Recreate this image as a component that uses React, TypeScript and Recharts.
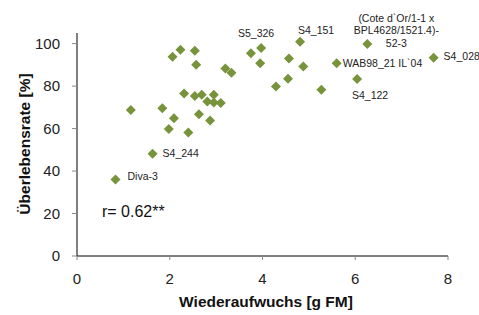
import React from 'react';
import { ScatterChart, Scatter, XAxis, YAxis, LabelList } from 'recharts';

// Wiederaufwuchs [g FM] vs. Überlebensrate [%]
const regrowth = [
  0.83, 1.63, 1.16, 1.84, 1.98, 2.09, 2.40, 2.06, 2.23, 2.54, 2.57, 2.31,
  2.54, 2.69, 2.81, 2.95, 2.95, 3.10, 2.63, 2.87, 3.20, 3.33, 3.75, 3.97,
  3.95, 4.29, 4.57, 4.55, 4.88, 4.81, 5.27, 5.60, 6.04, 6.26, 7.69,
];
const survival = [
  36.0, 48.1, 68.7, 69.6, 59.8, 64.9, 58.2, 93.8, 97.1, 96.6, 90.0, 76.5,
  75.3, 75.9, 72.8, 75.9, 72.3, 72.0, 66.8, 63.8, 88.3, 86.3, 95.5, 97.9,
  90.8, 79.8, 93.0, 83.4, 89.2, 100.9, 78.3, 90.8, 83.3, 99.8, 93.3,
];
const genotypes = [
  'Diva-3', 'S4_244', '', '', '', '', '', '', '', '', '', '',
  '', '', '', '', '', '', '', '', '', '', '', 'S5_326',
  '', '', '', '', '', 'S4_151', '', 'WAB98_21 IL`04', 'S4_122',
  "(Cote d`Or/1-1 x|BPL4628/1521.4)-|52-3", 'S4_028',
];

const xTicks = [0, 2, 4, 6, 8];
const yTicks = [0, 20, 40, 60, 80, 100];

const data = regrowth.map((x, i) => ({ x, y: survival[i], name: genotypes[i] }));

const GREEN = '#77933C';
const FONT = '"Liberation Sans", Arial, sans-serif';
const LABEL_SIZE = 10.5;

// label placement relative to the marker
const labelPos: Record<string, { dx: number; dy: number; anchor: 'start' | 'middle' }> = {
  'Diva-3': { dx: 12, dy: -2, anchor: 'start' },
  'S4_244': { dx: 10, dy: 0, anchor: 'start' },
  'S5_326': { dx: -5, dy: -14, anchor: 'middle' },
  'S4_151': { dx: 16, dy: -10, anchor: 'middle' },
  'WAB98_21 IL`04': { dx: 6, dy: 1, anchor: 'start' },
  'S4_122': { dx: 13, dy: 17, anchor: 'middle' },
  'S4_028': { dx: 10, dy: -1, anchor: 'start' },
};

const Diamond = (props: any) => {
  const { cx, cy } = props;
  const r = 5;
  return (
    <polygon
      points={`${cx},${cy - r} ${cx + r},${cy} ${cx},${cy + r} ${cx - r},${cy}`}
      fill={GREEN}
    />
  );
};

const PointLabel = (props: any) => {
  const { x, y, width, height, value } = props;
  if (!value) return null;
  const cx = x + (width || 0) / 2;
  const cy = y + (height || 0) / 2;
  if (value.includes('|')) {
    const lines = value.split('|');
    return (
      <text x={cx + 29} y={cy - 25} textAnchor="middle" fontSize={LABEL_SIZE} fontFamily={FONT} fill="#222">
        {lines.map((l: string, i: number) => (
          <tspan key={i} x={cx + 29} dy={i === 0 ? 0 : 12.5} dominantBaseline="middle">{l}</tspan>
        ))}
      </text>
    );
  }
  const p = labelPos[value] || { dx: 8, dy: 0, anchor: 'start' };
  return (
    <text
      x={cx + p.dx}
      y={cy + p.dy}
      textAnchor={p.anchor}
      dominantBaseline="middle"
      fontSize={LABEL_SIZE}
      fontFamily={FONT}
      fill="#222"
    >
      {value}
    </text>
  );
};

export default function App() {
  return (
    <div style={{ position: 'absolute', left: 0, top: 0, width: 479, height: 315, background: '#fff' }}>
      <ScatterChart width={479} height={315} margin={{ top: 33, right: 31, left: 0, bottom: 0 }}>
        <XAxis
          type="number"
          dataKey="x"
          domain={[0, 8]}
          ticks={xTicks}
          height={59}
          stroke="#000"
          tickSize={4}
          tickMargin={13}
          tickLine={{ stroke: '#888' }}
          tick={{ fontSize: 15, fontFamily: FONT, fill: '#222' }}
          label={{
            content: () => (
              <text x={266} y={303} textAnchor="middle" dominantBaseline="middle" fontSize={15.5} fontWeight="bold" fontFamily={FONT} fill="#111">
                Wiederaufwuchs [g FM]
              </text>
            ),
          }}
        />
        <YAxis
          type="number"
          dataKey="y"
          domain={[0, 105]}
          ticks={yTicks}
          width={77}
          stroke="#000"
          tickSize={5}
          tickMargin={12}
          tickLine={{ stroke: '#888' }}
          tick={{ fontSize: 15, fontFamily: FONT, fill: '#222' }}
          label={{
            content: () => (
              <text x={26} y={144} transform="rotate(-90 26 144)" textAnchor="middle" dominantBaseline="middle" fontSize={15.5} fontWeight="bold" fontFamily={FONT} fill="#111">
                Überlebensrate [%]
              </text>
            ),
          }}
        />
        <Scatter data={data} shape={<Diamond />} isAnimationActive={false}>
          <LabelList dataKey="name" content={<PointLabel />} />
        </Scatter>
      </ScatterChart>
      <div
        style={{
          position: 'absolute',
          left: 102,
          top: 202,
          fontFamily: FONT,
          fontSize: 16,
          lineHeight: '20px',
          color: '#111',
          whiteSpace: 'nowrap',
        }}
      >
        r= 0.62**
      </div>
    </div>
  );
}
